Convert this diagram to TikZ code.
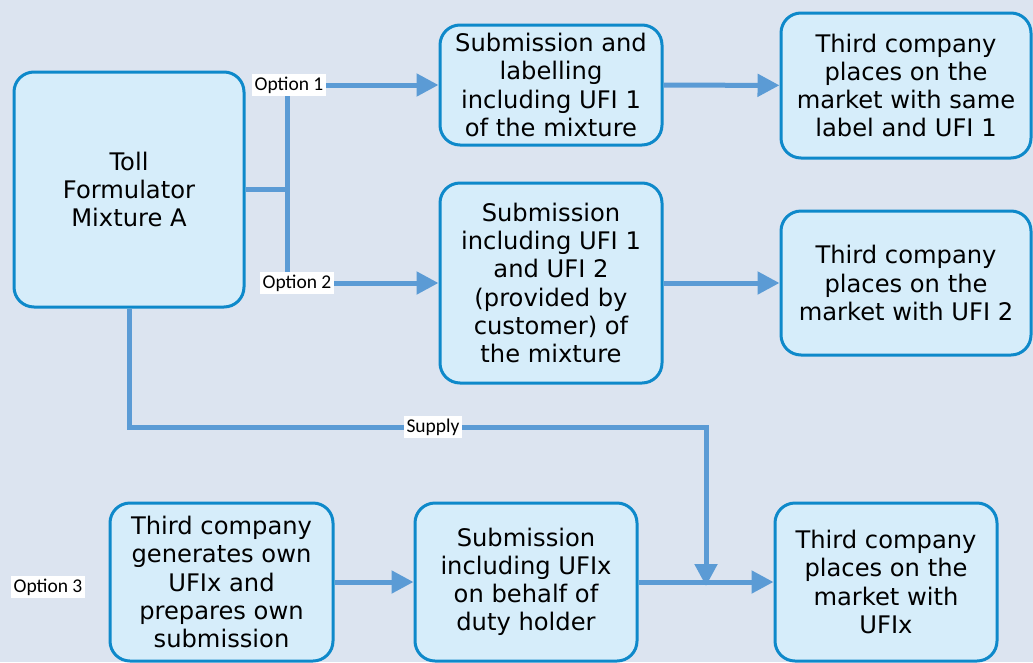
\documentclass[tikz,border=0pt]{standalone}
\usepackage{fontspec}
\setmainfont{DejaVu Sans}
\newfontfamily\optfont{Carlito}
\usepackage{xcolor}
\usepackage{tikz}
\usetikzlibrary{positioning,arrows.meta}
\definecolor{bgblue}{RGB}{220,228,240}
\definecolor{boxfill}{RGB}{214,237,250}
\definecolor{boxline}{RGB}{14,137,202}
\definecolor{flowblue}{RGB}{91,155,213}
\tikzset{
  block/.style={draw=boxline, fill=boxfill, line width=3pt, rounded corners=20pt, align=center, inner sep=0pt, font=\fontsize{24.2}{28.2}\selectfont},
  flow/.style={draw=flowblue, line width=5pt},
  arr/.style={flow, -{Triangle[length=22pt,width=22pt]}},
  optlabel/.style={fill=white, inner sep=2.5pt, font=\optfont\fontsize{19.5}{21}\selectfont}
}

\begin{document}
\begin{tikzpicture}[x=1pt, y=-1pt]
    \fill[bgblue] (0,0) rectangle (1033,662);
    \useasboundingbox (0,0) rectangle (1033,662);
    \node[block, minimum width=230, minimum height=235] (toll) at (129,189.5) {Toll\\Formulator\\Mixture A};
    \node[block, minimum width=222, minimum height=120] (sub1) at (551,85) {Submission and\\labelling\\including UFI 1\\of the mixture};
    \node[block, minimum width=250, minimum height=145] (third1) at (906,85.5) {Third company\\places on the\\market with same\\label and UFI 1};
    \node[block, minimum width=222, minimum height=200] (sub2) at (551,283) {Submission\\including UFI 1\\and UFI 2\\(provided by\\customer) of\\the mixture};
    \node[block, minimum width=250, minimum height=144] (third2) at (906,283) {Third company\\places on the\\market with UFI 2};
    \node[block, minimum width=223, minimum height=158] (own) at (221.5,582) {Third company\\generates own\\UFIx and\\prepares own\\submission};
    \node[block, minimum width=222, minimum height=158] (subx) at (526,582) {Submission\\including UFIx\\on behalf of\\duty holder};
    \node[block, minimum width=222, minimum height=158] (thirdx) at (886,582) {Third company\\places on the\\market with\\UFIx};
    \coordinate (split) at (287,189.5);
    \coordinate (turn) at (706,427);
    \draw[flow] (toll.east) -- (split);
    \draw[arr] (split) |- (sub1);
    \draw[arr] (split) |- (sub2);
    \draw[arr] (sub1) -- (third1);
    \draw[arr] (sub2) -- (third2);
    \draw[arr] (toll.south) |- (turn) -- ([yshift=-4pt]turn |- thirdx.west);
    \draw[arr] (own) -- (subx);
    \draw[arr] (subx) -- (thirdx);
    \node[optlabel] (opt1) at ([xshift=2pt]split |- sub1) {Option 1};
    \node[optlabel] (opt2) at ([xshift=10pt]split |- sub2) {Option 2};
    \node[optlabel] (supply) at (433,427) {Supply};
    \node[optlabel] (opt3) at (48,587) {Option 3};
\end{tikzpicture}
\end{document}
